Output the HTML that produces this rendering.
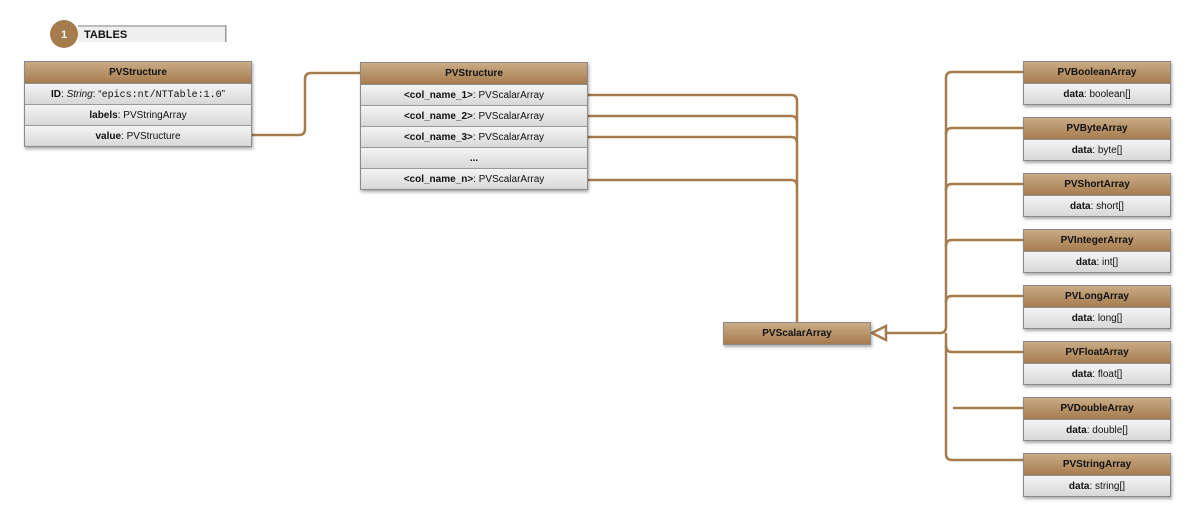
<!DOCTYPE html>
<html><head><meta charset="utf-8"><style>
body{margin:0;width:1194px;height:521px;background:#fff;position:relative;overflow:hidden;font-family:"Liberation Sans",sans-serif;font-size:10px;color:#111}
.box{position:absolute;border:1px solid #8a8a8a;box-shadow:1px 2px 3px rgba(0,0,0,.35);background:#e4e4e4}
.h{height:21px;line-height:22px;text-align:center;font-weight:bold;background:linear-gradient(#c9ab85,#a67c4e);border-bottom:1px solid #8a8a8a}
.r{height:20px;line-height:21px;text-align:center;background:linear-gradient(#f4f4f4,#d8d8d8);border-bottom:1px solid #9a9a9a}
.r:last-child{border-bottom:none}
b{font-weight:bold}
.mono{font-family:"Liberation Mono",monospace}
svg{position:absolute;left:0;top:0}
</style></head><body>
<svg width="1194" height="521">
<g fill="none" stroke="#a67c4e" stroke-width="2.5">
<path d="M252 135 H299 Q305 135 305 129 V79 Q305 73 311 73 H360"/>
<path d="M588 95 H791 Q797 95 797 101 V322"/>
<path d="M588 116 H791 Q797 116 797 122"/>
<path d="M588 137 H791 Q797 137 797 143"/>
<path d="M588 180 H791 Q797 180 797 186"/>
<path d="M886 333 H940 Q946 333 946 327 V78 Q946 72 952 72 H1023"/>
<path d="M946 333 Q946 339 946 345 V454 Q946 460 952 460 H1023"/>
<path d="M946 134 Q946 128 952 128 H1023"/>
<path d="M946 190 Q946 184 952 184 H1023"/>
<path d="M946 246 Q946 240 952 240 H1023"/>
<path d="M946 302 Q946 296 952 296 H1023"/>
<path d="M946 346 Q946 352 952 352 H1023"/>
<path d="M953 408 H1023"/>
<path d="M872 333 L886 326 L886 340 Z" fill="#fff"/>
</g>
<rect x="78" y="25" width="148" height="17" fill="#efefef"/>
<rect x="78" y="25" width="148" height="2" fill="#bbb"/>
<rect x="225" y="25" width="1.5" height="17" fill="#999"/>
<circle cx="64" cy="34" r="14" fill="#a67c4e"/>
<text x="64" y="38" fill="#fff" font-family="Liberation Sans" font-weight="bold" font-size="11" text-anchor="middle">1</text>
<text x="84" y="38" fill="#111" font-family="Liberation Sans" font-weight="bold" font-size="11">TABLES</text>
</svg>

<div class="box" style="left:24px;top:61px;width:226px">
<div class="h">PVStructure</div>
<div class="r"><b>ID</b>: <i>String</i>: “<span class="mono">epics:nt/NTTable:1.0</span>”</div>
<div class="r"><b>labels</b>: PVStringArray</div>
<div class="r"><b>value</b>: PVStructure</div>
</div>

<div class="box" style="left:360px;top:62px;width:226px">
<div class="h">PVStructure</div>
<div class="r"><b>&lt;col_name_1&gt;</b>: PVScalarArray</div>
<div class="r"><b>&lt;col_name_2&gt;</b>: PVScalarArray</div>
<div class="r"><b>&lt;col_name_3&gt;</b>: PVScalarArray</div>
<div class="r"><b>...</b></div>
<div class="r"><b>&lt;col_name_n&gt;</b>: PVScalarArray</div>
</div>

<div class="box" style="left:723px;top:322px;width:146px"><div class="h" style="border-bottom:none">PVScalarArray</div></div>

<div class="box" style="left:1023px;top:61px;width:146px"><div class="h">PVBooleanArray</div><div class="r"><b>data</b>: boolean[]</div></div>
<div class="box" style="left:1023px;top:117px;width:146px"><div class="h">PVByteArray</div><div class="r"><b>data</b>: byte[]</div></div>
<div class="box" style="left:1023px;top:173px;width:146px"><div class="h">PVShortArray</div><div class="r"><b>data</b>: short[]</div></div>
<div class="box" style="left:1023px;top:229px;width:146px"><div class="h">PVIntegerArray</div><div class="r"><b>data</b>: int[]</div></div>
<div class="box" style="left:1023px;top:285px;width:146px"><div class="h">PVLongArray</div><div class="r"><b>data</b>: long[]</div></div>
<div class="box" style="left:1023px;top:341px;width:146px"><div class="h">PVFloatArray</div><div class="r"><b>data</b>: float[]</div></div>
<div class="box" style="left:1023px;top:397px;width:146px"><div class="h">PVDoubleArray</div><div class="r"><b>data</b>: double[]</div></div>
<div class="box" style="left:1023px;top:453px;width:146px"><div class="h">PVStringArray</div><div class="r"><b>data</b>: string[]</div></div>
</body></html>
